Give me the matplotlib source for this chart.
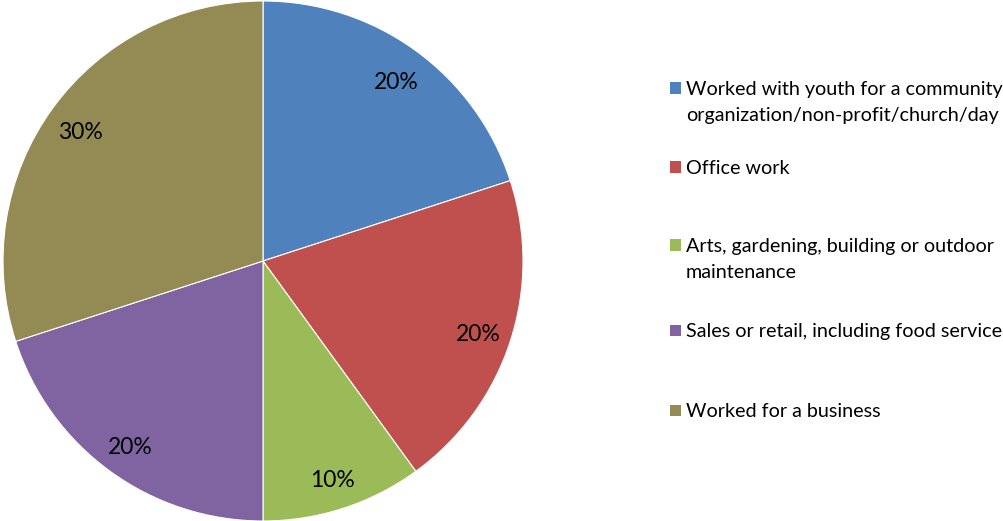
import matplotlib.pyplot as plt
import matplotlib.transforms as mtransforms
from matplotlib.patches import Rectangle

categories = [
    "Worked with youth for a community\norganization/non-profit/church/day",
    "Office work",
    "Arts, gardening, building or outdoor\nmaintenance",
    "Sales or retail, including food service",
    "Worked for a business",
]
shares = [20, 20, 10, 20, 30]
colors = ["#4F81BD", "#C0504D", "#9BBB59", "#8064A2", "#948A54"]

plt.rcParams['font.family'] = ['Lato', 'DejaVu Sans']

W, H = 1004, 521
fig = plt.figure(figsize=(W / 100, H / 100), dpi=100)

# pie axes: centre (263, 261) px from top-left, radius 260 px
cx, cy, r = 263, 261, 260
ax = fig.add_axes([(cx - r) / W, (H - cy - r) / H, 2 * r / W, 2 * r / H])
wedges, texts, autotexts = ax.pie(
    shares,
    colors=colors,
    startangle=90,
    counterclock=False,
    radius=1.0,
    autopct=lambda p: f"{p:.0f}%",
    pctdistance=0.87,
    wedgeprops={'edgecolor': 'white', 'linewidth': 0.8},
    textprops={'fontsize': 16.5, 'color': 'black'},
)
# Excel sits the labels a touch lower
shift = mtransforms.ScaledTranslation(0, -4 / 100, fig.dpi_scale_trans)
for t in autotexts:
    t.set_transform(t.get_transform() + shift)
ax.set_xlim(-1, 1)
ax.set_ylim(-1, 1)
ax.set_aspect('equal')
ax.axis('off')

# legend drawn by hand so the swatch sits on the first text line
legend_y = [88, 167, 245, 330, 410]
for label, col, y in zip(categories, colors, legend_y):
    fig.patches.append(Rectangle((670 / W, (H - y - 5.5) / H), 11 / W, 11 / H,
                                 transform=fig.transFigure, facecolor=col,
                                 edgecolor='none'))
    fig.text(686 / W, (H - y + 7) / H, label, fontsize=14.2, va='top',
             ha='left', linespacing=1.62, transform=fig.transFigure)

fig.savefig("out.png", dpi=100)
